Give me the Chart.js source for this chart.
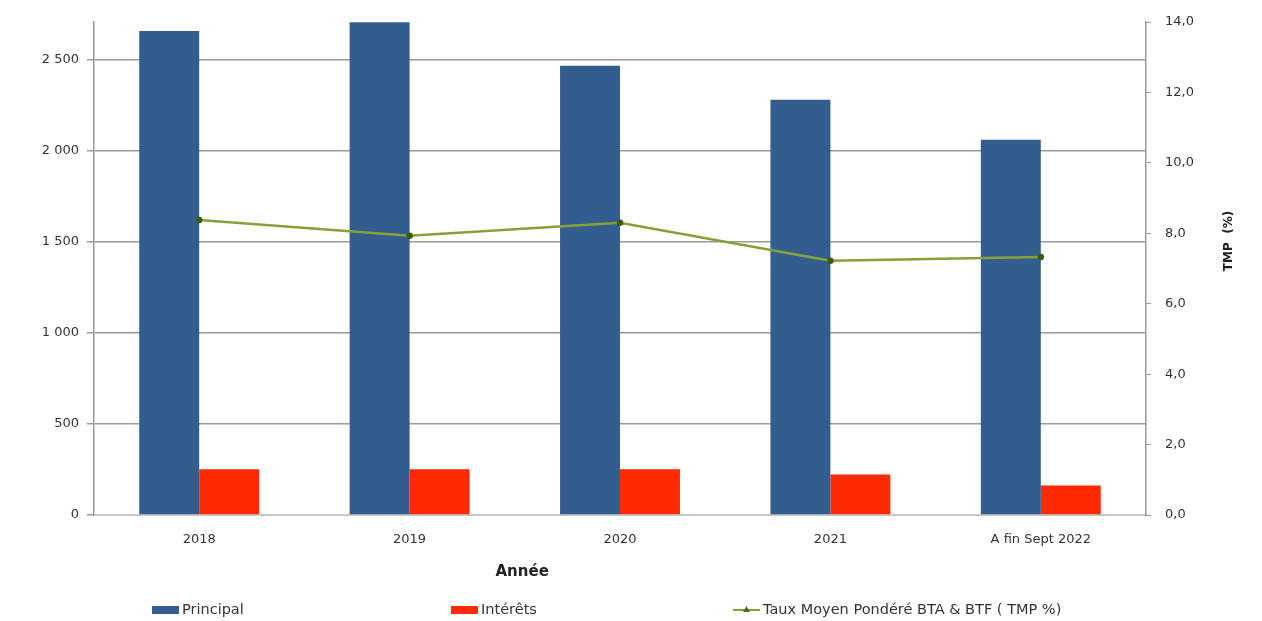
<!DOCTYPE html>
<html>
<head>
    <title>Principal, intérêts et TMP</title>
    <script src="https://cdn.jsdelivr.net/npm/chart.js"></script>
    <style type="text/css">
        html, body { margin: 0; padding: 0; background: #fff; }
        #wrap { width: 1262px; height: 621px; position: relative; }
    </style>
</head>
<body>
    <div id="wrap"><canvas id="service-chart"></canvas></div>

    <script type="text/javascript">
        // Values
        const annees = ['2018', '2019', '2020', '2021', 'A fin Sept 2022'];
        const principal = [2660, 2708, 2468, 2282, 2062];
        const interets = [252, 252, 252, 222, 162];
        const tmp = [8.38, 7.93, 8.30, 7.22, 7.33];
        const leftTicks = [0, 500, 1000, 1500, 2000, 2500];

        const BLUE = '#335c8f';
        const RED = '#ff2a00';
        const GREEN = '#85a23a';
        const FONT = 'DejaVu Sans';

        function fmtSpace(v) {
            return String(v).replace(/\B(?=(\d{3})+(?!\d))/g, ' ');
        }

        // Legend spread across the bottom, plus the two free-standing titles
        const extras = {
            id: 'extras',
            afterDraw(chart) {
                const ctx = chart.ctx;
                const area = chart.chartArea;
                ctx.save();

                // x title
                ctx.fillStyle = '#222';
                ctx.font = 'bold 15px ' + FONT;
                ctx.textAlign = 'center';
                ctx.textBaseline = 'middle';
                ctx.fillText('Année', area.left + (area.right - area.left) * 0.407, 572);

                // right axis title, reading bottom to top
                ctx.translate(1229, 241);
                ctx.rotate(-Math.PI / 2);
                ctx.font = 'bold 12px ' + FONT;
                ctx.fillText('TMP  (%)', 0, 0);
                ctx.restore();

                // legend
                ctx.save();
                ctx.font = '14.5px ' + FONT;
                ctx.textBaseline = 'middle';
                ctx.textAlign = 'left';
                const y = 610;
                const ds = chart.data.datasets;
                const slots = [152, 451, 733];
                const keys = ['Principal', 'Intérêts', 'Taux Moyen Pondéré BTA & BTF ( TMP %)'];
                keys.forEach((label, i) => {
                    const d = ds.find(s => s.label === label);
                    const x = slots[i];
                    if (d.type === 'line') {
                        ctx.strokeStyle = GREEN;
                        ctx.lineWidth = 2;
                        ctx.beginPath();
                        ctx.moveTo(x, y);
                        ctx.lineTo(x + 27, y);
                        ctx.stroke();
                        ctx.fillStyle = '#4f6b1c';
                        ctx.beginPath();
                        ctx.moveTo(x + 13.5, y - 4);
                        ctx.lineTo(x + 17, y + 2);
                        ctx.lineTo(x + 10, y + 2);
                        ctx.closePath();
                        ctx.fill();
                    } else {
                        ctx.fillStyle = d.backgroundColor;
                        ctx.fillRect(x, y - 4, 27, 8);
                    }
                    ctx.fillStyle = '#333';
                    ctx.fillText(label, x + 30, y);
                });
                ctx.restore();
            }
        };

        const ctx = document.getElementById('service-chart').getContext('2d');
        new Chart(ctx, {
            data: {
                labels: annees,
                datasets: [
                    {
                        type: 'line',
                        label: 'Taux Moyen Pondéré BTA & BTF ( TMP %)',
                        data: tmp,
                        yAxisID: 'y1',
                        borderColor: GREEN,
                        borderWidth: 2.5,
                        pointStyle: 'circle',
                        pointRadius: 2,
                        pointBackgroundColor: '#3f5a14',
                        pointBorderColor: '#3f5a14',
                        tension: 0,
                        order: 0
                    },
                    {
                        type: 'bar',
                        label: 'Principal',
                        data: principal,
                        yAxisID: 'y',
                        backgroundColor: BLUE,
                        categoryPercentage: 0.57,
                        barPercentage: 1.0,
                        order: 1
                    },
                    {
                        type: 'bar',
                        label: 'Intérêts',
                        data: interets,
                        yAxisID: 'y',
                        backgroundColor: RED,
                        categoryPercentage: 0.57,
                        barPercentage: 1.0,
                        order: 1
                    }
                ]
            },
            options: {
                responsive: true,
                maintainAspectRatio: false,
                animation: false,
                layout: { padding: { top: 22, left: 0, right: 0, bottom: 0 } },
                plugins: {
                    legend: { display: false },
                    tooltip: { enabled: false }
                },
                scales: {
                    x: {
                        grid: { display: false, drawTicks: false },
                        border: { color: '#c8c8c8', width: 2 },
                        ticks: { color: '#333', font: { family: FONT, size: 13 }, padding: 17, maxRotation: 0, autoSkip: false },
                        afterFit(scale) { scale.height = 106; }
                    },
                    y: {
                        position: 'left',
                        min: 0,
                        max: 2709,
                        afterBuildTicks(scale) {
                            scale.ticks = leftTicks.map(v => ({ value: v }));
                        },
                        grid: { color: '#9a9a9a', lineWidth: 1.5, tickLength: 7 },
                        border: { color: '#999', width: 1.5 },
                        ticks: {
                            color: '#333',
                            font: { family: FONT, size: 13 },
                            padding: 8,
                            callback: v => fmtSpace(v)
                        },
                        afterFit(scale) { scale.width = 94; }
                    },
                    y1: {
                        position: 'right',
                        min: 0,
                        max: 14,
                        ticks: {
                            stepSize: 2,
                            color: '#333',
                            font: { family: FONT, size: 13 },
                            padding: 14,
                            callback: v => v.toFixed(1).replace('.', ',')
                        },
                        grid: { drawOnChartArea: false, color: '#999', tickLength: 5 },
                        border: { color: '#999', width: 1.5 },
                        afterFit(scale) { scale.width = 116; }
                    }
                }
            },
            plugins: [extras]
        });
    </script>
</body>
</html>
